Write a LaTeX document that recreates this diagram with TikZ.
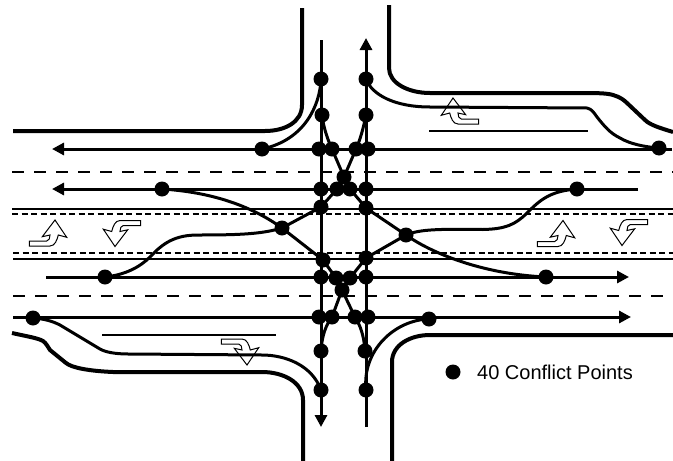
\documentclass[tikz,border=0pt]{standalone}
\usepackage{fontspec}
\setmainfont{Liberation Sans}
\usepackage{tikz}
\usetikzlibrary{arrows.meta}

\tikzset{
    conflict/.style={circle, fill=black, inner sep=0pt, minimum size=15pt},
    kerb/.style={line width=4pt},
    lane/.style={line width=3pt},
    thinline/.style={line width=2pt},
    lanedash/.style={line width=2pt, dash pattern=on 12pt off 10pt},
    mediandash/.style={line width=2pt, dash pattern=on 6pt off 3.5pt},
    flow/.style={lane, -{Triangle[length=12pt, width=12pt]}},
    turnmark/.pic={
        \draw[line width=1pt, fill=white] (-25.7,21) -- (-25.7,26) -- (-5,26)
            .. controls (0,26) and (2,20) .. (3.3,15) -- (11.7,17.3) -- (0,0) -- (-12.7,16.7) -- (-5,15)
            .. controls (-5,18) and (-6,21) .. (-8.3,21) -- cycle;
    }
}

\begin{document}
\begin{tikzpicture}[x=1pt, y=-1pt]
    \useasboundingbox (0,0) rectangle (673,461);

    % Road edges
    \draw[kerb] (302,8) -- (302,105) .. controls (302,122) and (285,131) .. (265,131) -- (13,131);
    \draw[kerb] (389,5) -- (389,68) .. controls (389,83) and (408,93) .. (430,93) -- (577,93)
        .. controls (595,93) and (607,93) .. (613,95) .. controls (620,97) and (624,100) .. (627,103)
        -- (645,120) .. controls (650,125) and (660,128) .. (673,132);
    \draw[kerb] (12,333) .. controls (25,336) and (38,338) .. (43,341) .. controls (46,343) and (48,347) .. (50,350)
        -- (66,363) .. controls (72,368) and (90,371) .. (113,372)
        -- (262,372) .. controls (283,372) and (303,382) .. (303,400) -- (303,461);
    \draw[kerb] (392,461) -- (392,362) .. controls (392,345) and (410,335) .. (430,335) -- (673,335);

    % Lane lines
    \draw[lanedash] (12,172) -- (673,172);
    \draw[thinline] (12,209) -- (673,209);
    \draw[mediandash] (12,213.5) -- (673,213.5);
    \draw[mediandash] (13,253) -- (673,253);
    \draw[thinline] (13,259) -- (673,259);
    \draw[lanedash] (13,296) -- (673,296);
    \draw[thinline] (429,131) -- (588,131);
    \draw[thinline] (102,335) -- (276,335);

    % Pavement marks
    \pic at (55,220) {turnmark};
    \pic[rotate=180] at (115,246.5) {turnmark};
    \pic at (563,220.5) {turnmark};
    \pic[rotate=180] at (622,245.5) {turnmark};
    \pic[xscale=-1] at (453,98) {turnmark};
    \pic[yscale=-1] at (247,365) {turnmark};

    % Conflict points
    \node[conflict] (n1) at (321,79) {};
    \node[conflict] (n2) at (366,79) {};
    \node[conflict] (n3) at (322,115) {};
    \node[conflict] (n4) at (366,115) {};
    \node[conflict] (n5) at (262,149) {};
    \node[conflict] (n6) at (319,149) {};
    \node[conflict] (n7) at (332,149) {};
    \node[conflict] (n8) at (356,149) {};
    \node[conflict] (n9) at (368,149) {};
    \node[conflict] (n10) at (659,148) {};
    \node[conflict] (n11) at (344,177) {};
    \node[conflict] (n12) at (162,189) {};
    \node[conflict] (n13) at (321,189) {};
    \node[conflict] (n14) at (337,189) {};
    \node[conflict] (n15) at (350,189) {};
    \node[conflict] (n16) at (366,189) {};
    \node[conflict] (n17) at (577,189) {};
    \node[conflict] (n18) at (321,207) {};
    \node[conflict] (n19) at (366,208) {};
    \node[conflict] (n20) at (282,228) {};
    \node[conflict] (n21) at (406,235) {};
    \node[conflict] (n22) at (323,260) {};
    \node[conflict] (n23) at (366,258) {};
    \node[conflict] (n24) at (105,277) {};
    \node[conflict] (n25) at (321,277) {};
    \node[conflict] (n26) at (336,278) {};
    \node[conflict] (n27) at (350,278) {};
    \node[conflict] (n28) at (366,277) {};
    \node[conflict] (n29) at (546,277) {};
    \node[conflict] (n30) at (342,290) {};
    \node[conflict] (n31) at (33,318) {};
    \node[conflict] (n32) at (319,317) {};
    \node[conflict] (n33) at (332,317) {};
    \node[conflict] (n34) at (355,317) {};
    \node[conflict] (n35) at (368,317) {};
    \node[conflict] (n36) at (429,319) {};
    \node[conflict] (n37) at (321,351) {};
    \node[conflict] (n38) at (365,351) {};
    \node[conflict] (n39) at (321,390) {};
    \node[conflict] (n40) at (366,390) {};

    % Through movements
    \coordinate (eastup) at (672,149);
    \coordinate (westup) at (52,149);
    \coordinate (eastmid) at (638,189);
    \coordinate (westmid) at (52,189);
    \coordinate (startlow) at (46,277);
    \coordinate (endlow) at (629,277);
    \coordinate (startbot) at (13,317);
    \coordinate (endbot) at (631,317);
    \coordinate (southtop) at (321,40);
    \coordinate (southend) at (321,427);
    \coordinate (northend) at (366,38);
    \coordinate (northstart) at (366,427);
    \draw[flow] (eastup) -- (westup);
    \draw[flow] (eastmid) -- (westmid);
    \draw[flow] (startlow) -- (endlow);
    \draw[flow] (startbot) -- (endbot);
    \draw[flow] (southtop) -- (southend);
    \draw[flow] (northstart) -- (northend);

    % Right turns
    \draw[lane] (n1.center) .. controls (320,105) and (305,140) .. (n5.center);
    \draw[lane] (n2.center) .. controls (372,95) and (395,107) .. (430,107) -- (587,108)
        .. controls (592,109) and (594,113) .. (597,117) .. controls (605,127) and (610,133) .. (620,138)
        .. controls (630,144) and (645,147) .. (n10.center);
    \draw[lane] (n31.center) .. controls (45,319) and (52,321) .. (60,325) -- (100,349)
        .. controls (105,352) and (115,354) .. (128,354)
        -- (262,355) .. controls (285,355) and (312,365) .. (n39.center);
    \draw[lane] (n40.center) .. controls (362,350) and (395,320) .. (n36.center);

    % Left turns
    \draw[lane] (n3.center) .. controls (324,130) and (328,140) .. (n7.center) -- (n11.center) -- (n15.center) -- (n19.center);
    \draw[lane] (n4.center) .. controls (363,130) and (360,140) .. (n8.center) -- (n11.center) -- (n14.center) -- (n18.center);
    \draw[lane] (n37.center) .. controls (322,335) and (326,325) .. (n33.center) -- (n30.center) -- (n27.center) -- (n23.center);
    \draw[lane] (n38.center) .. controls (364,335) and (360,325) .. (n34.center) -- (n30.center) -- (n26.center) -- (n22.center);
    \draw[lane] (n12.center) .. controls (210,192) and (250,205) .. (n20.center) -- (n22.center);
    \draw[lane] (n18.center) -- (n20.center) .. controls (262,234) and (240,235) .. (198,235)
        .. controls (175,235) and (163,243) .. (150,257) .. controls (140,267) and (125,275) .. (n24.center);
    \draw[lane] (n19.center) -- (n21.center) .. controls (430,252) and (480,274) .. (n29.center);
    \draw[lane] (n23.center) -- (n21.center) .. controls (420,229) and (440,229) .. (483,229.5)
        .. controls (505,229) and (515,225) .. (527,213) .. controls (540,200) and (550,191) .. (n17.center);

    % Legend
    \node[conflict] (key) at (453,372) {};
    \node[font=\fontsize{20}{24}\selectfont, anchor=west, inner sep=0pt] (keytext) at (477,372) {40 Conflict Points};

\end{tikzpicture}
\end{document}
